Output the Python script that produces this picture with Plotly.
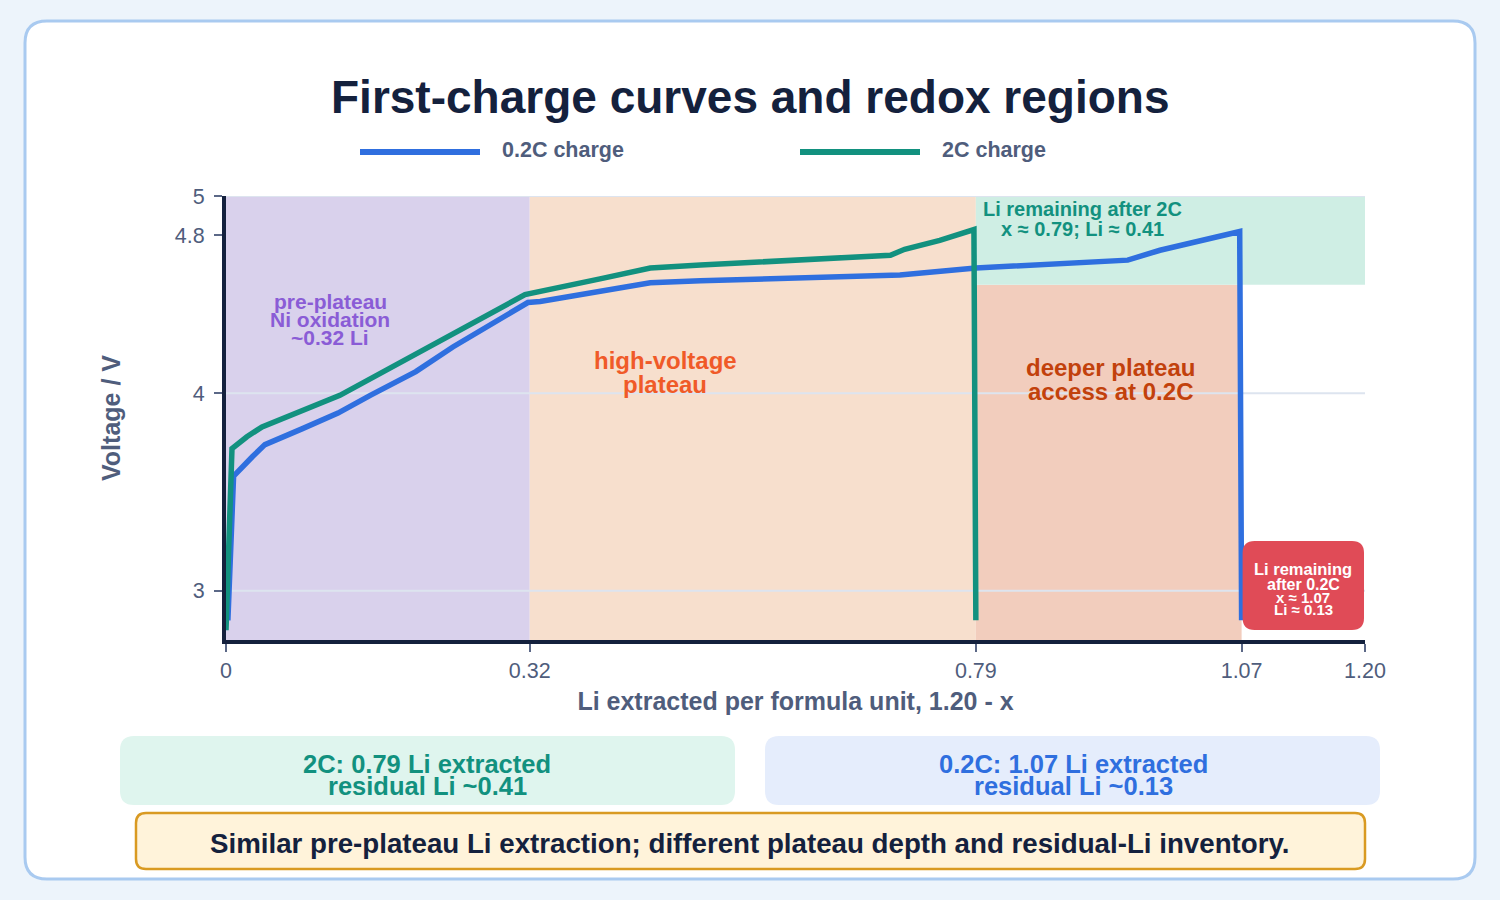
import plotly.graph_objects as go

# ---------------- data ----------------
x_02c = [0.002, 0.008, 0.028, 0.041, 0.08, 0.118, 0.152, 0.2, 0.239, 0.28, 0.318, 0.331,
         0.394, 0.447, 0.5, 0.6, 0.71, 0.79, 0.95, 0.984, 1.068, 1.07]
v_02c = [2.85, 3.58, 3.68, 3.74, 3.82, 3.90, 3.99, 4.11, 4.235, 4.35, 4.46, 4.465,
         4.515, 4.56, 4.57, 4.585, 4.60, 4.635, 4.675, 4.725, 4.82, 2.85]

x_2c = [0.0, 0.0063, 0.022, 0.038, 0.12, 0.162, 0.275, 0.315, 0.394, 0.447, 0.5, 0.6,
        0.70, 0.715, 0.752, 0.788, 0.79]
v_2c = [2.80, 3.72, 3.78, 3.83, 3.99, 4.10, 4.39, 4.50, 4.58, 4.635, 4.65, 4.675,
        4.70, 4.73, 4.775, 4.83, 2.85]

series_names = ["0.2C charge", "2C charge"]
x_ticks = [0, 0.32, 0.79, 1.07, 1.20]
x_ticktext = ["0", "0.32", "0.79", "1.07", "1.20"]
y_ticks = [3, 4, 4.8, 5]
y_ticktext = ["3", "4", "4.8", "5"]
y_grid = [3, 4, 5]

pre_plateau_end = 0.32
x_2c_end = 0.79
x_02c_end = 1.07
x_max = 1.20
v_min, v_max = 2.75, 5.0
v_split = 4.55

# ---------------- style ----------------
FONT = "Liberation Sans, Arial, sans-serif"
BLUE = "#2f6fdf"
TEAL = "#12917f"
NAVY = "#14213d"
TICK = "#4f5d7c"

L, R, T, B = 226, 135, 196, 260
W, H = 1500, 900
PW, PH = W - L - R, H - T - B


def P(x, y):
    return f"{(x - L) / PW:.5f},{(H - B - y) / PH:.5f}"


def rr_path(x0, y0, x1, y1, r):
    return (f"M {P(x0 + r, y0)} L {P(x1 - r, y0)} Q {P(x1, y0)} {P(x1, y0 + r)} "
            f"L {P(x1, y1 - r)} Q {P(x1, y1)} {P(x1 - r, y1)} L {P(x0 + r, y1)} "
            f"Q {P(x0, y1)} {P(x0, y1 - r)} L {P(x0, y0 + r)} Q {P(x0, y0)} {P(x0 + r, y0)} Z")


def dx(x):
    return L + x / x_max * PW


fig = go.Figure()
fig.add_trace(go.Scatter(x=x_02c, y=v_02c, mode="lines", name=series_names[0],
                         line=dict(color=BLUE, width=5.5), showlegend=False))
fig.add_trace(go.Scatter(x=x_2c, y=v_2c, mode="lines", name=series_names[1],
                         line=dict(color=TEAL, width=5.5), showlegend=False))

shapes = []
# card
shapes.append(dict(type="path", xref="paper", yref="paper", path=rr_path(25, 21, 1475, 879, 22),
                   fillcolor="white", line=dict(color="#a9caf0", width=3), layer="below"))
# bottom boxes
shapes.append(dict(type="path", xref="paper", yref="paper", path=rr_path(120, 736, 735, 805, 14),
                   fillcolor="#dff5ee", line=dict(width=0), layer="below"))
shapes.append(dict(type="path", xref="paper", yref="paper", path=rr_path(765, 736, 1380, 805, 14),
                   fillcolor="#e5edfc", line=dict(width=0), layer="below"))
shapes.append(dict(type="path", xref="paper", yref="paper", path=rr_path(136, 813, 1365, 869, 10),
                   fillcolor="#fff3da", line=dict(color="#d99a22", width=2.5), layer="below"))
# regions
shapes.append(dict(type="rect", xref="x", yref="y", x0=0, x1=pre_plateau_end, y0=v_min, y1=v_max,
                   fillcolor="#d9d1ec", line=dict(width=0), layer="below"))
shapes.append(dict(type="rect", xref="x", yref="y", x0=pre_plateau_end, x1=x_2c_end, y0=v_min, y1=v_max,
                   fillcolor="#f7dfcd", line=dict(width=0), layer="below"))
shapes.append(dict(type="rect", xref="x", yref="y", x0=x_2c_end, x1=x_02c_end, y0=v_min, y1=v_split,
                   fillcolor="#f2cdbd", line=dict(width=0), layer="below"))
shapes.append(dict(type="rect", xref="x", yref="y", x0=x_2c_end, x1=x_max, y0=v_split, y1=v_max,
                   fillcolor="#cfeee4", line=dict(width=0), layer="below"))
# gridlines (over the region fills, under the curves)
for g in y_grid:
    shapes.append(dict(type="line", xref="x", yref="y", x0=0, x1=x_max, y0=g, y1=g,
                       line=dict(color="#dde4ef", width=2), layer="below"))
# red box
shapes.append(dict(type="path", xref="paper", yref="paper",
                   path=rr_path(dx(x_02c_end) + 1, 541, dx(x_max) - 1, 630, 12),
                   fillcolor="#e04b57", line=dict(width=0), layer="above"))
# legend lines
shapes.append(dict(type="line", xref="paper", yref="paper", x0=(360 - L) / PW, x1=(480 - L) / PW,
                   y0=(H - B - 152) / PH, y1=(H - B - 152) / PH, line=dict(color=BLUE, width=6)))
shapes.append(dict(type="line", xref="paper", yref="paper", x0=(800 - L) / PW, x1=(920 - L) / PW,
                   y0=(H - B - 152) / PH, y1=(H - B - 152) / PH, line=dict(color=TEAL, width=6)))

annotations = []


def text(t, x, y, size, color, xanchor="center", bold=True):
    annotations.append(dict(text=f"<b>{t}</b>" if bold else t, xref="paper", yref="paper",
                            x=(x - L) / PW, y=(H - B - y) / PH, xanchor=xanchor, yanchor="middle",
                            showarrow=False, font=dict(family=FONT, size=size, color=color)))


def lines(ts, x, y0, step, size, color):
    for i, t in enumerate(ts):
        text(t, x, y0 + i * step, size, color)


text("First-charge curves and redox regions", 750, 97, 46, NAVY)
text(series_names[0], 500, 150, 21.5, TICK, xanchor="left")
text(series_names[1], 940, 150, 21.5, TICK, xanchor="left")

lines(["pre-plateau", "Ni oxidation", "~0.32 Li"], 330, 301, 18, 21, "#8a5cd6")
lines(["high-voltage", "plateau"], 665, 360, 24, 24, "#f05a28")
lines(["deeper plateau", "access at 0.2C"], 1110, 367, 24, 24, "#c2410c")
lines(["Li remaining after 2C", "x ≈ 0.79; Li ≈ 0.41"], 1082, 209, 20, 20, TEAL)
text("Li remaining", 1303, 569, 16.5, "white")
text("after 0.2C", 1303, 584, 16, "white")
text("x ≈ 1.07", 1303, 597, 15, "white")
text("Li ≈ 0.13", 1303, 609, 15, "white")

lines(["2C: 0.79 Li extracted", "residual Li ~0.41"], 427, 764, 22, 25.5, TEAL)
lines(["0.2C: 1.07 Li extracted", "residual Li ~0.13"], 1073, 764, 22, 25.5, BLUE)
text("Similar pre-plateau Li extraction; different plateau depth and residual-Li inventory.",
     750, 843, 27.7, NAVY)

fig.update_layout(
    width=W, height=H,
    margin=dict(l=L, r=R, t=T, b=B),
    paper_bgcolor="#edf4fb",
    plot_bgcolor="rgba(0,0,0,0)",
    showlegend=False,
    shapes=shapes,
    annotations=annotations,
    font=dict(family=FONT, color=TICK),
    xaxis=dict(range=[0, x_max], tickvals=x_ticks, ticktext=x_ticktext, showgrid=False,
               zeroline=False, showline=True, linecolor=NAVY, linewidth=4,
               ticks="outside", ticklen=8, tickwidth=2, tickcolor="#5b6887",
               tickfont=dict(size=21.5, color=TICK, family=FONT),
               title=dict(text="<b>Li extracted per formula unit, 1.20 - x</b>", standoff=12,
                          font=dict(size=25, color=TICK, family=FONT))),
    yaxis=dict(range=[v_min, v_max], tickvals=y_ticks, ticktext=y_ticktext, showgrid=False,
               zeroline=False, showline=True, linecolor=NAVY, linewidth=4,
               ticks="outside", ticklen=8, tickwidth=2, tickcolor="#5b6887",
               ticklabelstandoff=5,
               tickfont=dict(size=21.5, color=TICK, family=FONT),
               title=dict(text="<b>Voltage / V</b>", standoff=48,
                          font=dict(size=25, color=TICK, family=FONT))),
)

fig.write_html("out.html")
